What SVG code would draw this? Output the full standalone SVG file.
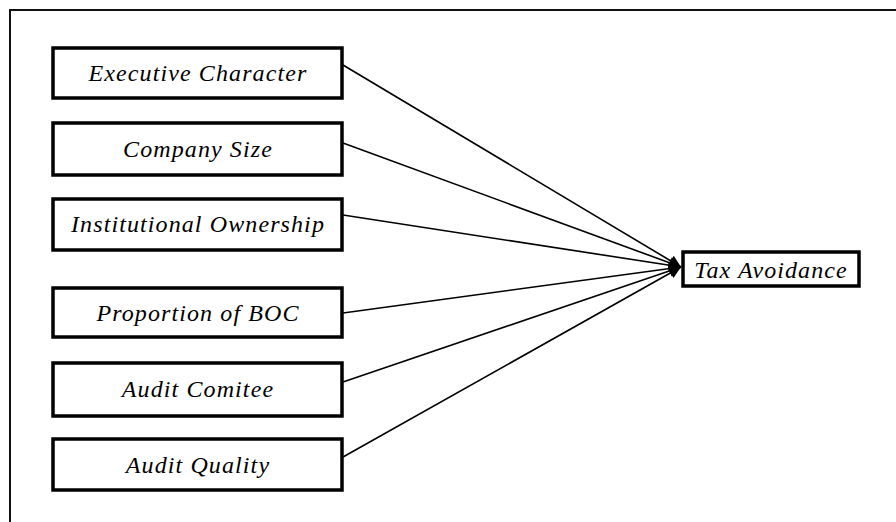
<svg xmlns="http://www.w3.org/2000/svg" width="896" height="522" viewBox="0 0 896 522">
<style>
.frame{fill:none;stroke:#111;stroke-width:2}
.box{fill:#fff;stroke:#000;stroke-width:3.5}
.lbl{font-family:"Liberation Serif","Times New Roman",serif;font-style:italic;font-size:24px;letter-spacing:1.1px;fill:#000;text-anchor:middle}
.edge{stroke:#000;stroke-width:1.6;fill:none;marker-end:url(#ah)}
</style>
<defs>
<marker id="ah" viewBox="0 0 10 10" refX="10" refY="5" markerWidth="15" markerHeight="12" markerUnits="userSpaceOnUse" orient="auto">
<path d="M0,0 L10,5 L0,10 z" fill="#000"/>
</marker>
</defs>
<rect class="frame" x="10" y="10" width="900" height="530"/>
<g id="connectors">
<line class="edge" x1="343" y1="65" x2="681" y2="267"/>
<line class="edge" x1="343" y1="143" x2="681" y2="267"/>
<line class="edge" x1="343" y1="215" x2="681" y2="267"/>
<line class="edge" x1="343" y1="313" x2="681" y2="267"/>
<line class="edge" x1="343" y1="382" x2="681" y2="267"/>
<line class="edge" x1="343" y1="457" x2="681" y2="267"/>
</g>
<g id="n1"><rect class="box" x="53" y="48" width="289" height="50"/><text class="lbl" x="198" y="81">Executive Character</text></g>
<g id="n2"><rect class="box" x="53" y="123" width="289" height="52"/><text class="lbl" x="198" y="157">Company Size</text></g>
<g id="n3"><rect class="box" x="53" y="199" width="289" height="51"/><text class="lbl" x="198" y="232">Institutional Ownership</text></g>
<g id="n4"><rect class="box" x="53" y="288" width="289" height="49"/><text class="lbl" x="198" y="321">Proportion of BOC</text></g>
<g id="n5"><rect class="box" x="53" y="363" width="289" height="53"/><text class="lbl" x="198" y="397">Audit Comitee</text></g>
<g id="n6"><rect class="box" x="53" y="439" width="289" height="51"/><text class="lbl" x="198" y="473">Audit Quality</text></g>
<g id="target"><rect class="box" x="683" y="252" width="176" height="34"/><text class="lbl" x="771" y="278">Tax Avoidance</text></g>
</svg>
